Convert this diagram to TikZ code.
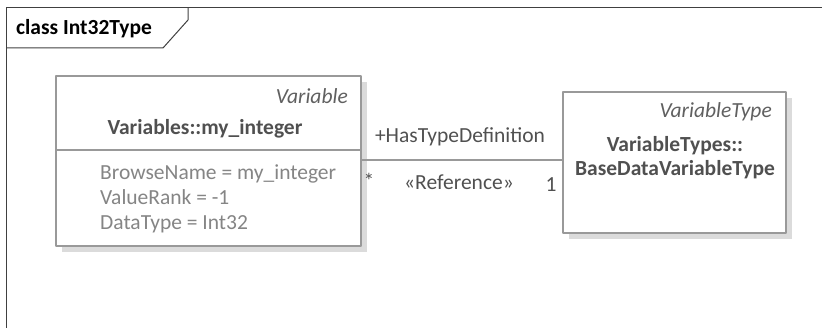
\documentclass[tikz,border=0pt]{standalone}
\usepackage{fontspec}
\setmainfont{Carlito}
\usetikzlibrary{shadows}
\definecolor{boxline}{HTML}{999999}
\definecolor{nametext}{HTML}{505050}
\definecolor{attrtext}{HTML}{858585}
\definecolor{stereotext}{HTML}{606060}
\tikzset{
  umlbox/.style={draw=boxline, line width=1.2pt, fill=white, inner sep=0pt,
    drop shadow={shadow xshift=6pt, shadow yshift=-6pt, fill=black!14, opacity=1}},
  stereo/.style={font=\fontsize{21.5}{24}\selectfont\itshape, text=stereotext, inner sep=0pt},
  clsname/.style={font=\fontsize{21.5}{24}\selectfont\bfseries, text=nametext, inner sep=0pt, align=center},
  attr/.style={font=\fontsize{21.5}{25}\selectfont, text=attrtext, inner sep=0pt, align=left},
  lbl/.style={font=\fontsize{21.5}{24}\selectfont, text=nametext, inner sep=0pt}
}
\begin{document}
\begin{tikzpicture}[x=1pt,y=1pt,join=round] %Int32Type class diagram
        \useasboundingbox (0,0) rectangle (822,-328);
        % frame and its tab
        \draw[black!75, line width=1pt] (822,-8)--(6,-8)--(6,-328);
        \draw[black!75, line width=1pt] (6,-48)--(163,-48)--(188,-20)--(188,-8);
        \node[anchor=west, font=\fontsize{21.5}{24}\selectfont\bfseries, inner sep=0pt] (title) at (16,-29) {class Int32Type};
        % boxes
        \node[umlbox, minimum width=305pt, minimum height=170pt] (var) at (208.5,-161) {};
        \node[umlbox, minimum width=223pt, minimum height=141pt] (vtype) at (674.5,-162.5) {};
        \draw[boxline, line width=1.2pt] (var.west |- 0,-150) -- (var.east |- 0,-150);
        \node[stereo, anchor=east] (varstereo) at (348,-96) {Variable};
        \node[clsname] (varname) at (205,-129) {Variables::my\_integer};
        \node[attr, anchor=north west] (varattr) at (100,-165) {BrowseName = my\_integer\\ValueRank = -1\\DataType = Int32};
        \node[stereo, anchor=east] (vtstereo) at (772,-112) {VariableType};
        \node[clsname] (vtname) at (675,-158) {VariableTypes::\\BaseDataVariableType};
        % association
        \draw[boxline, line width=1.2pt] (var.east |- 0,-160) -- (vtype.west |- 0,-160);
        \fill[black]
                (460,-137) node[lbl] (role) {+HasTypeDefinition}
                (459,-182) node[lbl] (refst) {«Reference»}
                (369,-181) node[lbl] (mulsrc) {*}
                (551,-185) node[lbl] (multgt) {1};
\end{tikzpicture}
\end{document}
